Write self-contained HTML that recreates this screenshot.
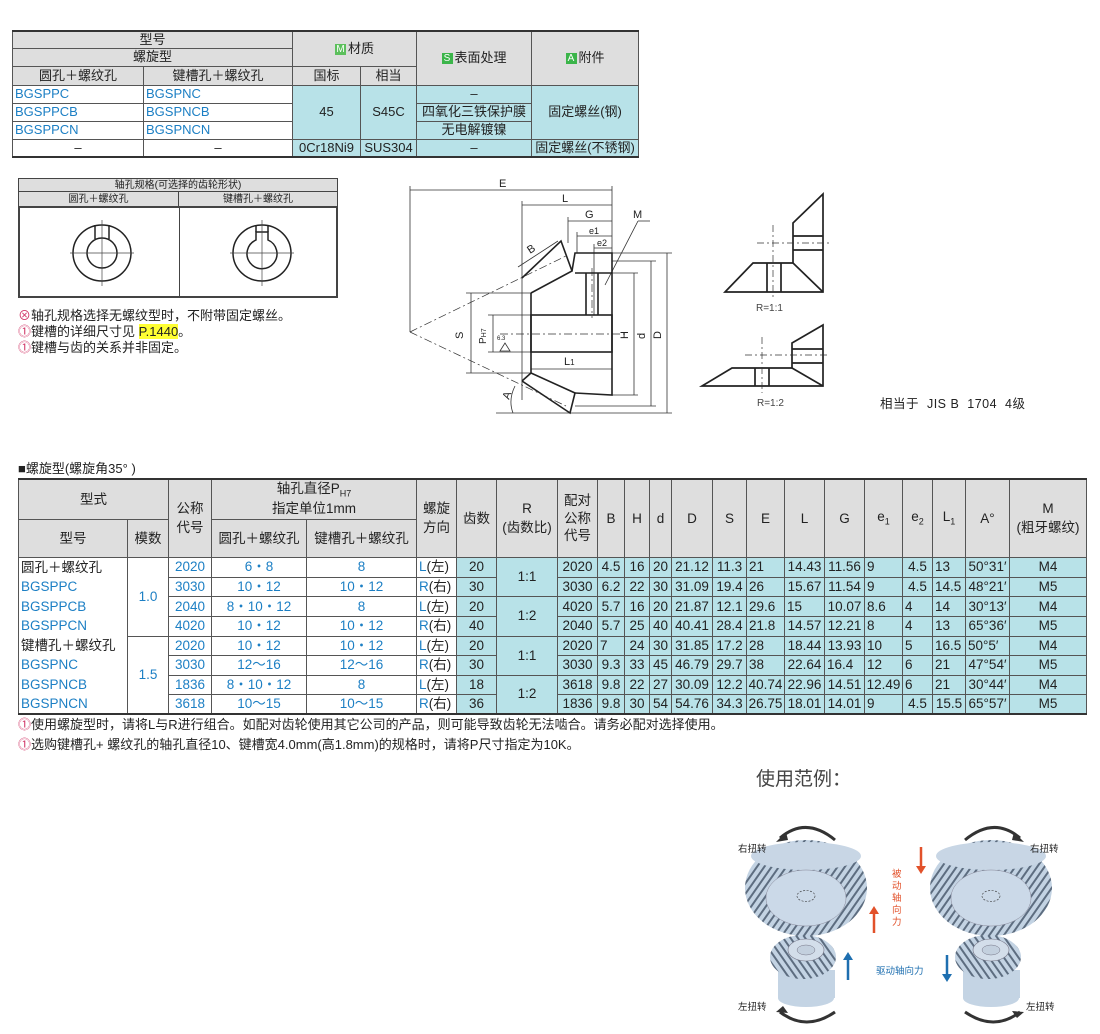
<!DOCTYPE html>
<html><head><meta charset="utf-8">
<style>
*{margin:0;padding:0;box-sizing:border-box}
body{width:1100px;height:1034px;background:#fff;position:relative;overflow:hidden;font-family:"Liberation Sans","Noto Sans CJK SC",sans-serif;color:#222}
.abs{position:absolute}
table{border-collapse:collapse;table-layout:fixed;position:absolute}
td{border:1px solid #555;text-align:center;vertical-align:middle;font-size:13px;line-height:1.05;padding:0;white-space:nowrap;overflow:hidden}
.h{background:#dedede}
.c{background:#b8e2e8}
.b{color:#1c7fc4}
.l{text-align:left;padding-left:2px}
.bx{display:inline-block;color:#fff;font-size:10px;width:11px;height:11px;line-height:11px;text-align:center;margin-right:2px;vertical-align:1px}
#t1{left:12px;top:30px;width:626px;border-top:2px solid #333;border-bottom:2px solid #333}
#t2{left:18px;top:478px;width:1068px;border-top:2px solid #333;border-bottom:2px solid #333}
#t2 td{font-size:13.5px}
#t2 tr.d td{height:19.6px}
.nb td.f{border-top:none;border-bottom:none}
.note{font-size:13px;color:#222}
.ex{color:#d23a6a}
</style></head><body>

<table id="t1">
<colgroup><col style="width:131px"><col style="width:149px"><col style="width:68px"><col style="width:56px"><col style="width:115px"><col style="width:107px"></colgroup>
<tr style="height:17px"><td class="h" colspan="2">型号</td><td class="h" colspan="2" rowspan="2"><span class="bx" style="background:#5cc05c">M</span>材质</td><td class="h" rowspan="3"><span class="bx" style="background:#3bb54a">S</span>表面处理</td><td class="h" rowspan="3"><span class="bx" style="background:#3bb54a">A</span>附件</td></tr>
<tr style="height:18px"><td class="h" colspan="2">螺旋型</td></tr>
<tr style="height:19px"><td class="h">圆孔＋螺纹孔</td><td class="h">键槽孔＋螺纹孔</td><td class="h">国标</td><td class="h">相当</td></tr>
<tr style="height:18px"><td class="b l">BGSPPC</td><td class="b l">BGSPNC</td><td class="c" rowspan="3">45</td><td class="c" rowspan="3">S45C</td><td class="c">–</td><td class="c" rowspan="3">固定螺丝(钢)</td></tr>
<tr style="height:18px"><td class="b l">BGSPPCB</td><td class="b l">BGSPNCB</td><td class="c">四氧化三铁保护膜</td></tr>
<tr style="height:18px"><td class="b l">BGSPPCN</td><td class="b l">BGSPNCN</td><td class="c">无电解镀镍</td></tr>
<tr style="height:18px"><td>–</td><td>–</td><td class="c">0Cr18Ni9</td><td class="c">SUS304</td><td class="c">–</td><td class="c">固定螺丝(不锈钢)</td></tr>
</table>

<!-- shaft spec box -->
<div class="abs" style="left:18px;top:178px;width:320px;height:120px;border:2px solid #444"></div>
<div class="abs h" style="left:19px;top:179px;width:318px;height:13px;font-size:10px;text-align:center;line-height:13px;border-bottom:1px solid #444">轴孔规格(可选择的齿轮形状)</div>
<div class="abs h" style="left:19px;top:192px;width:160px;height:16px;font-size:10px;text-align:center;line-height:16px;border-bottom:2px solid #444;border-right:1px solid #444">圆孔＋螺纹孔</div>
<div class="abs h" style="left:179px;top:192px;width:158px;height:16px;font-size:10px;text-align:center;line-height:16px;border-bottom:2px solid #444">键槽孔＋螺纹孔</div>
<div class="abs" style="left:179px;top:208px;width:1px;height:89px;background:#444"></div>
<svg class="abs" style="left:0;top:0" width="1100" height="460">
<g fill="none" stroke="#222" stroke-width="1.5">
<ellipse cx="102" cy="253" rx="29" ry="28"/><ellipse cx="102" cy="253" rx="15" ry="15"/>
<line x1="95" y1="239" x2="95" y2="225"/><line x1="109" y1="239" x2="109" y2="225"/>
<ellipse cx="262" cy="253" rx="29" ry="28"/>
<path d="M256 240 A15 15 0 1 0 268 240 L268 232 L256 232 Z"/>
<line x1="256" y1="232" x2="256" y2="225"/><line x1="268" y1="232" x2="268" y2="225"/>
</g>
<g stroke="#444" stroke-width="0.7">
<line x1="70" y1="253" x2="134" y2="253"/><line x1="102" y1="220" x2="102" y2="286"/>
<line x1="230" y1="253" x2="294" y2="253"/><line x1="262" y1="220" x2="262" y2="286"/>
</g>
<!-- gear drawing -->
<g stroke="#333" stroke-width="0.8" fill="none">
<line x1="410" y1="190" x2="612" y2="190"/><line x1="410" y1="186" x2="410" y2="332"/>
<line x1="612" y1="186" x2="612" y2="273"/>
<line x1="522" y1="205" x2="612" y2="205"/><line x1="522" y1="201" x2="522" y2="400"/>
<line x1="568" y1="221" x2="612" y2="221"/><line x1="568" y1="217" x2="568" y2="243"/>
<line x1="577" y1="236" x2="612" y2="236"/><line x1="577" y1="232" x2="577" y2="253"/>
<line x1="594" y1="248" x2="612" y2="248"/><line x1="594" y1="244" x2="594" y2="315"/>
<line x1="638" y1="221" x2="650" y2="221"/><line x1="638" y1="221" x2="605" y2="285"/>
<line x1="518" y1="267" x2="558" y2="241"/>
<line x1="575" y1="253" x2="672" y2="253"/><line x1="612" y1="261" x2="656" y2="261"/>
<line x1="612" y1="273" x2="638" y2="273"/>
<line x1="612" y1="395" x2="638" y2="395"/><line x1="575" y1="406" x2="656" y2="406"/><line x1="496" y1="413" x2="672" y2="413"/>
<line x1="667" y1="253" x2="667" y2="413"/><line x1="651" y1="261" x2="651" y2="406"/><line x1="634" y1="273" x2="634" y2="395"/>
<line x1="466" y1="293" x2="531" y2="293"/><line x1="466" y1="373" x2="531" y2="373"/><line x1="471" y1="293" x2="471" y2="373"/>
<line x1="488" y1="315" x2="531" y2="315"/><line x1="488" y1="352" x2="531" y2="352"/><line x1="493" y1="315" x2="493" y2="352"/>
<line x1="531" y1="369" x2="612" y2="369"/>
<path d="M515 386 Q508 400 513 413"/>
<path d="M505 343 l-5 8 h10 z"/>
</g>
<g stroke="#333" stroke-width="0.7" stroke-dasharray="8,3,2,3" fill="none">
<line x1="410" y1="332" x2="566" y2="256"/><line x1="410" y1="332" x2="566" y2="406"/>
<line x1="500" y1="334" x2="625" y2="334"/><line x1="592" y1="268" x2="592" y2="318"/>
</g>
<g stroke="#222" stroke-width="1.6" fill="none">
<path d="M522 278 L561 241 L572 271 L531 293"/>
<path d="M531 293 L531 373 L522 381"/>
<path d="M522 381 L570 413 L575 393 L531 373"/>
<path d="M572 271 L575 253 L612 253 L612 395 L575 393"/>
<rect x="531" y="315" width="81" height="37"/>
<line x1="586" y1="273" x2="586" y2="315"/><line x1="598" y1="273" x2="598" y2="315"/>
<line x1="575" y1="273" x2="612" y2="273"/>
</g>
<g font-size="11" fill="#222" font-family="Liberation Sans,sans-serif">
<text x="499" y="187">E</text><text x="562" y="202">L</text><text x="585" y="218">G</text>
<text x="589" y="234" font-size="9">e1</text><text x="597" y="246" font-size="9">e2</text>
<text x="633" y="218">M</text>
<text transform="translate(530,254) rotate(-33)">B</text>
<text transform="translate(463,339) rotate(-90)">S</text>
<text transform="translate(486,344) rotate(-90)" font-size="10">P<tspan font-size="7">H7</tspan></text>
<text transform="translate(628,339) rotate(-90)">H</text><text transform="translate(645,339) rotate(-90)">d</text><text transform="translate(661,339) rotate(-90)">D</text>
<text x="564" y="365">L<tspan font-size="8">1</tspan></text>
<text transform="translate(509,400) rotate(-70)">A</text>
<text x="497" y="340" font-size="6">6.3</text>
</g>
<!-- small sketches -->
<g stroke="#222" stroke-width="1.7" fill="none">
<path d="M725 292 L753 263 L793 263 L793 223 L823 194 L823 292 Z"/><line x1="793" y1="263" x2="823" y2="292"/>
<line x1="767" y1="263" x2="767" y2="292"/><line x1="781" y1="263" x2="781" y2="292"/>
<line x1="793" y1="236" x2="823" y2="236"/><line x1="793" y1="250" x2="823" y2="250"/>
<path d="M702 386 L732 368 L792 368 L792 343 L823 325 L823 386 Z"/><line x1="792" y1="368" x2="823" y2="386"/>
<line x1="755" y1="368" x2="755" y2="386"/><line x1="769" y1="368" x2="769" y2="386"/>
<line x1="792" y1="349" x2="823" y2="349"/><line x1="792" y1="363" x2="823" y2="363"/>
</g>
<g stroke="#333" stroke-width="0.7" stroke-dasharray="7,3,2,3">
<line x1="773" y1="225" x2="773" y2="300"/><line x1="757" y1="243" x2="830" y2="243"/>
<line x1="762" y1="337" x2="762" y2="393"/><line x1="745" y1="355" x2="830" y2="355"/>
</g>
<g font-size="10" fill="#444"><text x="756" y="311">R=1:1</text><text x="757" y="406">R=1:2</text></g>
</svg>
<div class="abs" style="left:880px;top:393px;font-size:12.5px;letter-spacing:0.5px">相当于&nbsp; JIS B&nbsp; 1704&nbsp; 4级</div>

<div class="abs note" style="left:18px;top:308px;line-height:16px">
<span class="ex">⊗</span>轴孔规格选择无螺纹型时，不附带固定螺丝。<br>
<span class="ex">⓵</span>键槽的详细尺寸见 <span style="background:#ffff33">P.1440</span>。<br>
<span class="ex">⓵</span>键槽与齿的关系并非固定。</div>

<div class="abs" style="left:18px;top:458px;font-size:13px">■螺旋型(螺旋角35°  )</div>

<table id="t2">
<colgroup><col style="width:109px"><col style="width:41px"><col style="width:43px"><col style="width:95px"><col style="width:110px"><col style="width:40px"><col style="width:40px"><col style="width:61px"><col style="width:40px"><col style="width:27px"><col style="width:25px"><col style="width:22px"><col style="width:41px"><col style="width:34px"><col style="width:38px"><col style="width:40px"><col style="width:40px"><col style="width:38px"><col style="width:30px"><col style="width:33px"><col style="width:44px"><col style="width:77px"></colgroup>
<tr style="height:39px"><td class="h" colspan="2">型式</td><td class="h" rowspan="2" style="line-height:1.4">公称<br>代号</td><td class="h" colspan="2" style="line-height:1.4">轴孔直径P<sub style="font-size:9px">H7</sub><br>指定单位1mm</td><td class="h" rowspan="2" style="line-height:1.4">螺旋<br>方向</td><td class="h" rowspan="2">齿数</td><td class="h" rowspan="2" style="line-height:1.4">R<br>(齿数比)</td><td class="h" rowspan="2" style="line-height:1.3">配对<br>公称<br>代号</td><td class="h" rowspan="2">B</td><td class="h" rowspan="2">H</td><td class="h" rowspan="2">d</td><td class="h" rowspan="2">D</td><td class="h" rowspan="2">S</td><td class="h" rowspan="2">E</td><td class="h" rowspan="2">L</td><td class="h" rowspan="2">G</td><td class="h" rowspan="2">e<sub style="font-size:9px">1</sub></td><td class="h" rowspan="2">e<sub style="font-size:9px">2</sub></td><td class="h" rowspan="2">L<sub style="font-size:9px">1</sub></td><td class="h" rowspan="2">A°</td><td class="h" rowspan="2" style="line-height:1.4">M<br>(粗牙螺纹)</td></tr>
<tr style="height:38px"><td class="h">型号</td><td class="h">模数</td><td class="h">圆孔＋螺纹孔</td><td class="h">键槽孔＋螺纹孔</td></tr>
<tr class="d nb"><td class="f l">圆孔＋螺纹孔</td><td rowspan="4" class="b">1.0</td><td class="b">2020</td><td class="b">6・8</td><td class="b">8</td><td class="b l">L<span style="color:#222">(左)</span></td><td class="c">20</td><td class="c" rowspan="2">1:1</td><td class="c">2020</td><td class="c">4.5</td><td class="c">16</td><td class="c">20</td><td class="c">21.12</td><td class="c">11.3</td><td class="c l">21</td><td class="c">14.43</td><td class="c">11.56</td><td class="c l">9</td><td class="c">4.5</td><td class="c l">13</td><td class="c">50°31′</td><td class="c">M4</td></tr>
<tr class="d nb"><td class="f l b">BGSPPC</td><td class="b">3030</td><td class="b">10・12</td><td class="b">10・12</td><td class="b l">R<span style="color:#222">(右)</span></td><td class="c">30</td><td class="c">3030</td><td class="c">6.2</td><td class="c">22</td><td class="c">30</td><td class="c">31.09</td><td class="c">19.4</td><td class="c l">26</td><td class="c">15.67</td><td class="c">11.54</td><td class="c l">9</td><td class="c">4.5</td><td class="c l">14.5</td><td class="c">48°21′</td><td class="c">M5</td></tr>
<tr class="d nb"><td class="f l b">BGSPPCB</td><td class="b">2040</td><td class="b">8・10・12</td><td class="b">8</td><td class="b l">L<span style="color:#222">(左)</span></td><td class="c">20</td><td class="c" rowspan="2">1:2</td><td class="c">4020</td><td class="c">5.7</td><td class="c">16</td><td class="c">20</td><td class="c">21.87</td><td class="c">12.1</td><td class="c l">29.6</td><td class="c l">15</td><td class="c">10.07</td><td class="c l">8.6</td><td class="c l">4</td><td class="c l">14</td><td class="c">30°13′</td><td class="c">M4</td></tr>
<tr class="d nb"><td class="f l b">BGSPPCN</td><td class="b">4020</td><td class="b">10・12</td><td class="b">10・12</td><td class="b l">R<span style="color:#222">(右)</span></td><td class="c">40</td><td class="c">2040</td><td class="c">5.7</td><td class="c">25</td><td class="c">40</td><td class="c">40.41</td><td class="c">28.4</td><td class="c l">21.8</td><td class="c">14.57</td><td class="c">12.21</td><td class="c l">8</td><td class="c l">4</td><td class="c l">13</td><td class="c">65°36′</td><td class="c">M5</td></tr>
<tr class="d nb"><td class="f l">键槽孔＋螺纹孔</td><td rowspan="4" class="b">1.5</td><td class="b">2020</td><td class="b">10・12</td><td class="b">10・12</td><td class="b l">L<span style="color:#222">(左)</span></td><td class="c">20</td><td class="c" rowspan="2">1:1</td><td class="c">2020</td><td class="c l">7</td><td class="c">24</td><td class="c">30</td><td class="c">31.85</td><td class="c">17.2</td><td class="c l">28</td><td class="c">18.44</td><td class="c">13.93</td><td class="c l">10</td><td class="c l">5</td><td class="c l">16.5</td><td class="c l">50°5′</td><td class="c">M4</td></tr>
<tr class="d nb"><td class="f l b">BGSPNC</td><td class="b">3030</td><td class="b">12～16</td><td class="b">12～16</td><td class="b l">R<span style="color:#222">(右)</span></td><td class="c">30</td><td class="c">3030</td><td class="c">9.3</td><td class="c">33</td><td class="c">45</td><td class="c">46.79</td><td class="c">29.7</td><td class="c l">38</td><td class="c">22.64</td><td class="c l">16.4</td><td class="c l">12</td><td class="c l">6</td><td class="c l">21</td><td class="c">47°54′</td><td class="c">M5</td></tr>
<tr class="d nb"><td class="f l b">BGSPNCB</td><td class="b">1836</td><td class="b">8・10・12</td><td class="b">8</td><td class="b l">L<span style="color:#222">(左)</span></td><td class="c">18</td><td class="c" rowspan="2">1:2</td><td class="c">3618</td><td class="c">9.8</td><td class="c">22</td><td class="c">27</td><td class="c">30.09</td><td class="c">12.2</td><td class="c">40.74</td><td class="c">22.96</td><td class="c">14.51</td><td class="c">12.49</td><td class="c l">6</td><td class="c l">21</td><td class="c">30°44′</td><td class="c">M4</td></tr>
<tr class="d nb"><td class="f l b">BGSPNCN</td><td class="b">3618</td><td class="b">10～15</td><td class="b">10～15</td><td class="b l">R<span style="color:#222">(右)</span></td><td class="c">36</td><td class="c">1836</td><td class="c">9.8</td><td class="c">30</td><td class="c">54</td><td class="c">54.76</td><td class="c">34.3</td><td class="c">26.75</td><td class="c">18.01</td><td class="c">14.01</td><td class="c l">9</td><td class="c">4.5</td><td class="c">15.5</td><td class="c">65°57′</td><td class="c">M5</td></tr>
</table>

<div class="abs note" style="left:18px;top:715px;line-height:20px">
<span class="ex">⓵</span>使用螺旋型时，请将L与R进行组合。如配对齿轮使用其它公司的产品，则可能导致齿轮无法啮合。请务必配对选择使用。<br>
<span class="ex">⓵</span>选购键槽孔+ 螺纹孔的轴孔直径10、键槽宽4.0mm(高1.8mm)的规格时，请将P尺寸指定为10K。</div>

<div class="abs" style="left:756px;top:764px;font-size:19px;color:#444">使用范例：</div>

<svg class="abs" style="left:700px;top:800px" width="400" height="234">
<defs>
<pattern id="tw" width="6" height="6" patternUnits="userSpaceOnUse" patternTransform="rotate(35)"><rect width="6" height="6" fill="#c3d3e3"/><rect width="2" height="6" fill="#5d6d80"/></pattern>
<pattern id="tw2" width="6" height="6" patternUnits="userSpaceOnUse" patternTransform="rotate(-35)"><rect width="6" height="6" fill="#c3d3e3"/><rect width="2" height="6" fill="#5d6d80"/></pattern>
</defs>
<g id="g1">
<rect x="78" y="170" width="57" height="28" fill="#c4d4e4"/><ellipse cx="106" cy="198" rx="28" ry="9" fill="#c4d4e4"/>
<ellipse cx="103" cy="157" rx="33" ry="22" fill="url(#tw2)"/>
<ellipse cx="106" cy="150" rx="18" ry="11" fill="#d3deea" stroke="#778" stroke-width="0.6"/>
<ellipse cx="106" cy="150" rx="9" ry="5" fill="#c3d0de" stroke="#778" stroke-width="0.5"/>
<ellipse cx="106" cy="88" rx="61" ry="48" fill="url(#tw)"/>
<ellipse cx="106" cy="56" rx="55" ry="14" fill="#c8d6e5"/>
<ellipse cx="106" cy="98" rx="40" ry="28" fill="#cbd9e8" stroke="#889" stroke-width="0.5"/>
<ellipse cx="106" cy="96" rx="9" ry="5.5" fill="none" stroke="#333" stroke-width="0.6" stroke-dasharray="2,1.5"/>
</g>
<use href="#g1" x="185"/>
<g fill="none" stroke="#333" stroke-width="3">
<path d="M135 40 Q106 16 80 38"/><path d="M135 212 Q106 232 80 212"/>
<path d="M265 40 Q294 16 320 38"/><path d="M265 212 Q294 232 320 212"/>
</g>
<g fill="#333">
<path d="M76 42 l10 -10 l2 8 z"/><path d="M76 208 l12 1 l-5 -7 z" transform="translate(0,4)"/>
<path d="M324 42 l-10 -10 l-2 8 z"/><path d="M324 212 l-12 -1 l5 7 z"/>
</g>
<g stroke-width="2.5"><line x1="221" y1="47" x2="221" y2="68" stroke="#e2512a"/><line x1="174" y1="112" x2="174" y2="133" stroke="#e2512a"/>
<line x1="148" y1="158" x2="148" y2="180" stroke="#1e6fb0"/><line x1="247" y1="155" x2="247" y2="176" stroke="#1e6fb0"/></g>
<path d="M216 66 h10 l-5 8 z" fill="#e2512a"/><path d="M169 114 h10 l-5 -8 z" fill="#e2512a"/>
<path d="M143 160 h10 l-5 -8 z" fill="#1e6fb0"/><path d="M242 174 h10 l-5 8 z" fill="#1e6fb0"/>
<g font-size="9.5" fill="#222"><text x="38" y="52">右扭转</text><text x="38" y="210">左扭转</text><text x="330" y="52">右扭转</text><text x="326" y="210">左扭转</text></g>
<text x="176" y="174" font-size="9.5" fill="#1e6fb0">驱动轴向力</text>
<g font-size="9.5" fill="#e2512a"><text x="192" y="77">被</text><text x="192" y="89">动</text><text x="192" y="101">轴</text><text x="192" y="113">向</text><text x="192" y="125">力</text></g>
</svg>
</body></html>
